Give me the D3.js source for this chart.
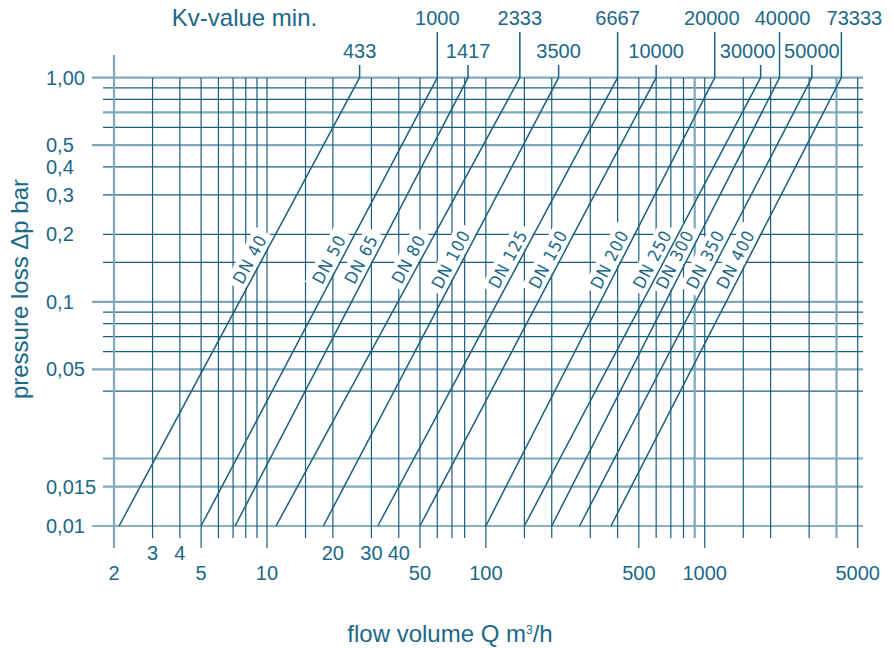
<!DOCTYPE html>
<html>
<head>
<meta charset="utf-8">
<style>
body { margin: 0; background: #fff; }
svg { display: block; }
text { font-family: "Liberation Sans", Arial, sans-serif; fill: #1b6887; }
.grid line { stroke: #1a5f7d; stroke-width: 1.2px; }
.grid line.light { stroke: #7ea9bb; stroke-width: 2.2px; }
.dn line, .kv line { stroke: #1a5f7d; stroke-width: 1.5px; }
.dnlabel text {
  font-family: "DejaVu Sans Condensed", "Liberation Sans Narrow", "DejaVu Sans", sans-serif;
  font-stretch: condensed;
  font-size: 17px;
  letter-spacing: 1px;
}
</style>
</head>
<body>
<svg width="894" height="648"></svg>

<script src="https://cdn.jsdelivr.net/npm/d3@7"></script>
<script>

// valve sizes, Kv (min) and where each line meets dp = 0.01 and dp = 1.00 bar
var dnNames  = ["DN 40", "DN 50", "DN 65", "DN 80", "DN 100", "DN 125", "DN 150",
                "DN 200", "DN 250", "DN 300", "DN 350", "DN 400"];
var kvValues = [433, 1000, 1417, 2333, 3500, 6667, 10000, 20000, 30000, 40000, 50000, 73333];
var qBottom  = [2.11, 5, 7.15, 11.0, 18.1, 32.1, 50, 100, 150, 200, 268, 373];
var qTop     = [26.5, 60, 82.9, 143, 215, 400, 600, 1111, 1801, 2197, 3086, 4211];

// grid
var xGrid = [2, 3, 4, 5, 6, 7, 8, 9, 10, 15, 20, 30, 40, 50, 60, 70, 80, 100, 150, 200,
             300, 400, 500, 600, 700, 800, 900, 1000, 1500, 2000, 3000, 4000, 5000];
var xTicksLow  = [2, 5, 10, 50, 100, 500, 1000, 5000];
var xTicksHigh = [3, 4, 20, 30, 40];
var yGrid = [1, 0.9, 0.8, 0.7, 0.6, 0.5, 0.4, 0.3, 0.2, 0.15, 0.1, 0.09, 0.08, 0.07,
             0.06, 0.05, 0.04, 0.02, 0.015, 0.01];
var yTicks = [1, 0.5, 0.4, 0.3, 0.2, 0.1, 0.05, 0.015, 0.01];
var yTickLabels = ["1,00", "0,5", "0,4", "0,3", "0,2", "0,1", "0,05", "0,015", "0,01"];

var svg = d3.select("svg");

var x = d3.scaleLog().domain([2, 5000]).range([114, 857.7]);
var y = d3.scaleLog().domain([0.01, 1]).range([526, 77.7]);

var lightY = [1, 0.7, 0.5, 0.1, 0.05, 0.02, 0.015];
var lightX = [2, 900, 4000];
var longY = [1, 0.5, 0.1, 0.05, 0.01];

var grid = svg.append("g").attr("class", "grid");

grid.selectAll("line.h")
  .data(yGrid)
  .enter().append("line")
    .attr("class", function(d) { return lightY.indexOf(d) >= 0 ? "h light" : "h"; })
    .attr("x1", function(d) { return longY.indexOf(d) >= 0 ? 92 : 103; })
    .attr("x2", 863)
    .attr("y1", function(d) { return y(d); })
    .attr("y2", function(d) { return y(d); });

grid.selectAll("line.v")
  .data(xGrid)
  .enter().append("line")
    .attr("class", function(d) { return lightX.indexOf(d) >= 0 ? "v light" : "v"; })
    .attr("x1", function(d) { return x(d); })
    .attr("x2", function(d) { return x(d); })
    .attr("y1", function(d) { return d === 2 ? 55 : y(1); })
    .attr("y2", function(d) { return xTicksLow.indexOf(d) >= 0 ? 548 : 538; });

// DN lines; labels sit just left of each line, on a white box that hides the grid
var labelDp = 0.147;
var dn = dnNames.map(function(name, i) {
  var x0 = x(qBottom[i]), y0 = y(0.01), x1 = x(qTop[i]), y1 = y(1);
  var a = Math.atan2(y1 - y0, x1 - x0);
  var yl = y(labelDp);
  var xl = x0 + (yl - y0) / (y1 - y0) * (x1 - x0);
  return {
    name: name, x0: x0, y0: y0, x1: x1, y1: y1, a: a,
    lx: xl + Math.sin(a) * 5, ly: yl - Math.cos(a) * 5
  };
});

function place(d) {
  return "translate(" + d.lx + "," + d.ly + ") rotate(" + (d.a * 180 / Math.PI) + ")";
}

var boxLayer = svg.append("g");

svg.append("g").attr("class", "dn")
  .selectAll("line")
  .data(dn)
  .enter().append("line")
    .attr("x1", function(d) { return d.x0; })
    .attr("y1", function(d) { return d.y0; })
    .attr("x2", function(d) { return d.x1; })
    .attr("y2", function(d) { return d.y1; });

var texts = svg.append("g").attr("class", "dnlabel")
  .selectAll("text")
  .data(dn)
  .enter().append("text")
    .attr("transform", place)
    .attr("text-anchor", "middle")
    .text(function(d) { return d.name; });

boxLayer.selectAll("rect")
  .data(dn)
  .enter().append("rect")
    .attr("fill", "#fff")
    .attr("transform", place)
    .each(function(d, i) {
      var w = texts.nodes()[i].getComputedTextLength() + 10;
      d3.select(this)
        .attr("x", -w / 2).attr("width", w)
        .attr("y", -17).attr("height", 21);
    });

// Kv leaders and labels, alternating rows
var kvNudge = { 20000: -3, 30000: -13, 40000: 3, 73333: 13 };
var kv = svg.append("g").attr("class", "kv");

kv.selectAll("line")
  .data(kvValues)
  .enter().append("line")
    .attr("x1", function(d, i) { return x(qTop[i]); })
    .attr("x2", function(d, i) { return x(qTop[i]); })
    .attr("y1", function(d, i) { return i % 2 ? 32 : 65; })
    .attr("y2", y(1));

kv.selectAll("text")
  .data(kvValues)
  .enter().append("text")
    .attr("x", function(d, i) { return x(qTop[i]) + (kvNudge[d] || 0); })
    .attr("y", function(d, i) { return i % 2 ? 25 : 57.5; })
    .attr("text-anchor", "middle")
    .style("font-size", "20px")
    .text(function(d) { return d; });

svg.append("text")
    .attr("x", 244.5)
    .attr("y", 26)
    .attr("text-anchor", "middle")
    .style("font-size", "24px")
    .text("Kv-value min.");

// axis labels
svg.append("g").selectAll("text")
  .data(xTicksLow.concat(xTicksHigh))
  .enter().append("text")
    .attr("x", function(d) { return x(d); })
    .attr("y", function(d) { return xTicksHigh.indexOf(d) >= 0 ? 560 : 580; })
    .attr("text-anchor", "middle")
    .style("font-size", "20px")
    .text(function(d) { return d; });

svg.append("g").selectAll("text")
  .data(yTicks)
  .enter().append("text")
    .attr("x", 46)
    .attr("y", function(d) { return y(d) + 7; })
    .style("font-size", "20px")
    .text(function(d, i) { return yTickLabels[i]; });

svg.append("text")
    .attr("transform", "translate(28,289) rotate(-90)")
    .attr("text-anchor", "middle")
    .style("font-size", "24px")
    .text("pressure loss \u0394p bar");

svg.append("text")
    .attr("x", 450)
    .attr("y", 642)
    .attr("text-anchor", "middle")
    .style("font-size", "24px")
    .html("flow volume Q m<tspan dy='-8' style='font-size:12px'>3</tspan><tspan dy='8'>/h</tspan>");

</script>
</body>
</html>
